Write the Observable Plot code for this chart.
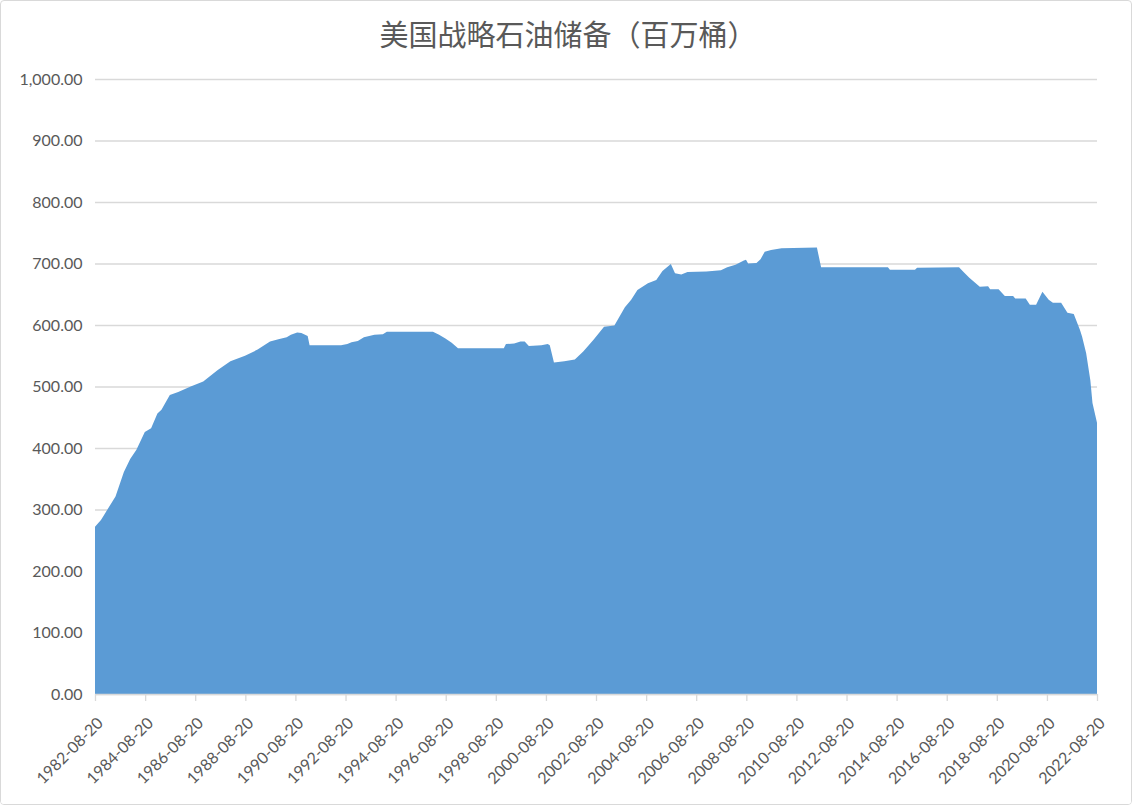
<!DOCTYPE html>
<html>
<head>
<meta charset="utf-8">
<script src="https://cdn.jsdelivr.net/npm/d3@7"></script>
<script src="https://cdn.jsdelivr.net/npm/@observablehq/plot@0.6"></script>
<style>
  html, body { margin: 0; padding: 0; background: #fff; }
  #frame { width: 1132px; height: 805px; box-sizing: border-box; border: 1px solid #d9d9d9; border-radius: 4px; overflow: hidden; position: relative; }
  #title { height: 59px; line-height: 64px; text-align: center; font-family: "Noto Sans CJK SC", sans-serif; font-size: 29px; color: #595959; padding-left: 4px; }
</style>
</head>
<body>
<div id="frame">
  <div id="title">美国战略石油储备（百万桶）</div>
  <div id="chart"></div>
</div>
<script>
const dates = [
  "1982-08-20","1982-11-15","1983-01-15","1983-06-15","1983-10-15","1984-01-15","1984-04-15","1984-08-15",
  "1984-11-15","1985-02-15","1985-04-15","1985-08-15","1985-12-15","1986-06-15","1986-12-15","1987-07-15",
  "1988-01-15","1988-08-15","1989-02-15","1989-08-15","1989-12-15","1990-04-15","1990-06-15","1990-09-15",
  "1990-11-15","1991-02-15","1991-03-15","1992-06-15","1992-09-15","1992-11-15","1993-02-15","1993-05-15",
  "1993-10-15","1994-02-15","1994-04-15","1996-02-15","1996-05-15","1996-08-15","1996-11-15","1997-02-15",
  "1998-12-15","1999-01-15","1999-05-15","1999-08-15","1999-10-15","1999-12-15","2000-06-15","2000-09-15",
  "2000-10-15","2000-12-15","2001-05-15","2001-10-15","2002-02-15","2002-07-15","2002-12-15","2003-05-15",
  "2003-10-15","2004-01-15","2004-04-15","2004-09-15","2005-01-15","2005-04-15","2005-08-15","2005-10-15",
  "2006-01-15","2006-04-15","2007-01-15","2007-08-15","2007-11-15","2008-03-15","2008-07-15","2008-08-15",
  "2008-09-15","2009-01-15","2009-03-15","2009-05-15","2009-08-15","2010-01-15","2011-06-15","2011-08-15",
  "2014-04-15","2014-05-15","2015-05-15","2015-06-15","2017-02-15","2017-04-15","2017-07-15","2017-12-15",
  "2018-04-15","2018-05-15","2018-09-15","2018-12-15","2019-04-15","2019-05-15","2019-10-15","2019-12-15",
  "2020-03-15","2020-06-15","2020-09-15","2020-11-15","2021-03-15","2021-06-15","2021-09-15","2021-12-15",
  "2022-01-15","2022-03-15","2022-05-15","2022-06-15","2022-08-20"
];
const values = [
  272, 283, 294, 321, 361, 382, 397, 426,
  432, 456, 462, 486, 491, 500, 508, 527,
  541, 550, 560, 573, 577, 580, 584, 588,
  587, 582, 567, 567, 569, 572, 574, 580,
  584, 585, 589, 589, 584, 578, 571, 562,
  562, 569, 570, 573, 573, 566, 567, 569,
  567, 539, 541, 544, 557, 576, 597, 599,
  629, 641, 657, 668, 673, 688, 699, 684,
  682, 686, 687, 689, 694, 698, 705, 706,
  700, 701, 707, 719, 722, 725, 726, 694,
  694, 690, 690, 693, 694, 687, 677, 662,
  663, 658, 658, 647, 647, 643, 643, 633,
  633, 654, 641, 636, 636, 620, 618, 592,
  581, 554, 510, 473, 441
];
const yTicks = [0, 100, 200, 300, 400, 500, 600, 700, 800, 900, 1000];
const xTickLabels = ["1982-08-20","1984-08-20","1986-08-20","1988-08-20","1990-08-20","1992-08-20","1994-08-20",
  "1996-08-20","1998-08-20","2000-08-20","2002-08-20","2004-08-20","2006-08-20","2008-08-20","2010-08-20",
  "2012-08-20","2014-08-20","2016-08-20","2018-08-20","2020-08-20","2022-08-20"];

const parse = d3.utcParse("%Y-%m-%d");
const data = dates.map((d, i) => ({date: parse(d), value: values[i]}));
const xTicks = xTickLabels.map(parse);

const chart = Plot.plot({
  width: 1130,
  height: 744,
  marginTop: 19,
  marginBottom: 110,
  marginLeft: 94,
  marginRight: 34,
  style: {fontFamily: "Lato, 'Open Sans', sans-serif", fontSize: "16px", color: "#595959", background: "#fff"},
  x: {type: "utc", domain: [xTicks[0], xTicks[xTicks.length - 1]], label: null},
  y: {domain: [0, 1000], label: null},
  marks: [
    Plot.ruleY(yTicks, {stroke: "#d9d9d9", strokeWidth: 1.3}),
    Plot.areaY(data, {x: "date", y: "value", fill: "#5b9bd5", curve: "linear"}),
    Plot.ruleY([0], {stroke: "#d9d9d9", strokeWidth: 1.3}),
    Plot.axisY({ticks: yTicks, tickFormat: d3.format(",.2f"), tickSize: 0, tickPadding: 13, fill: "#595959", fontSize: 16, label: null}),
    Plot.axisX({ticks: xTicks, tickFormat: () => "", tickSize: 7, stroke: "#d9d9d9", strokeWidth: 1.3, label: null}),
    Plot.axisX({ticks: xTicks, tickFormat: d3.utcFormat("%Y-%m-%d"), tickRotate: -45, tickSize: 0, tickPadding: 26, dx: 5, fill: "#595959", fontSize: 16, label: null})
  ]
});
document.getElementById("chart").appendChild(chart);
</script>
</body>
</html>
